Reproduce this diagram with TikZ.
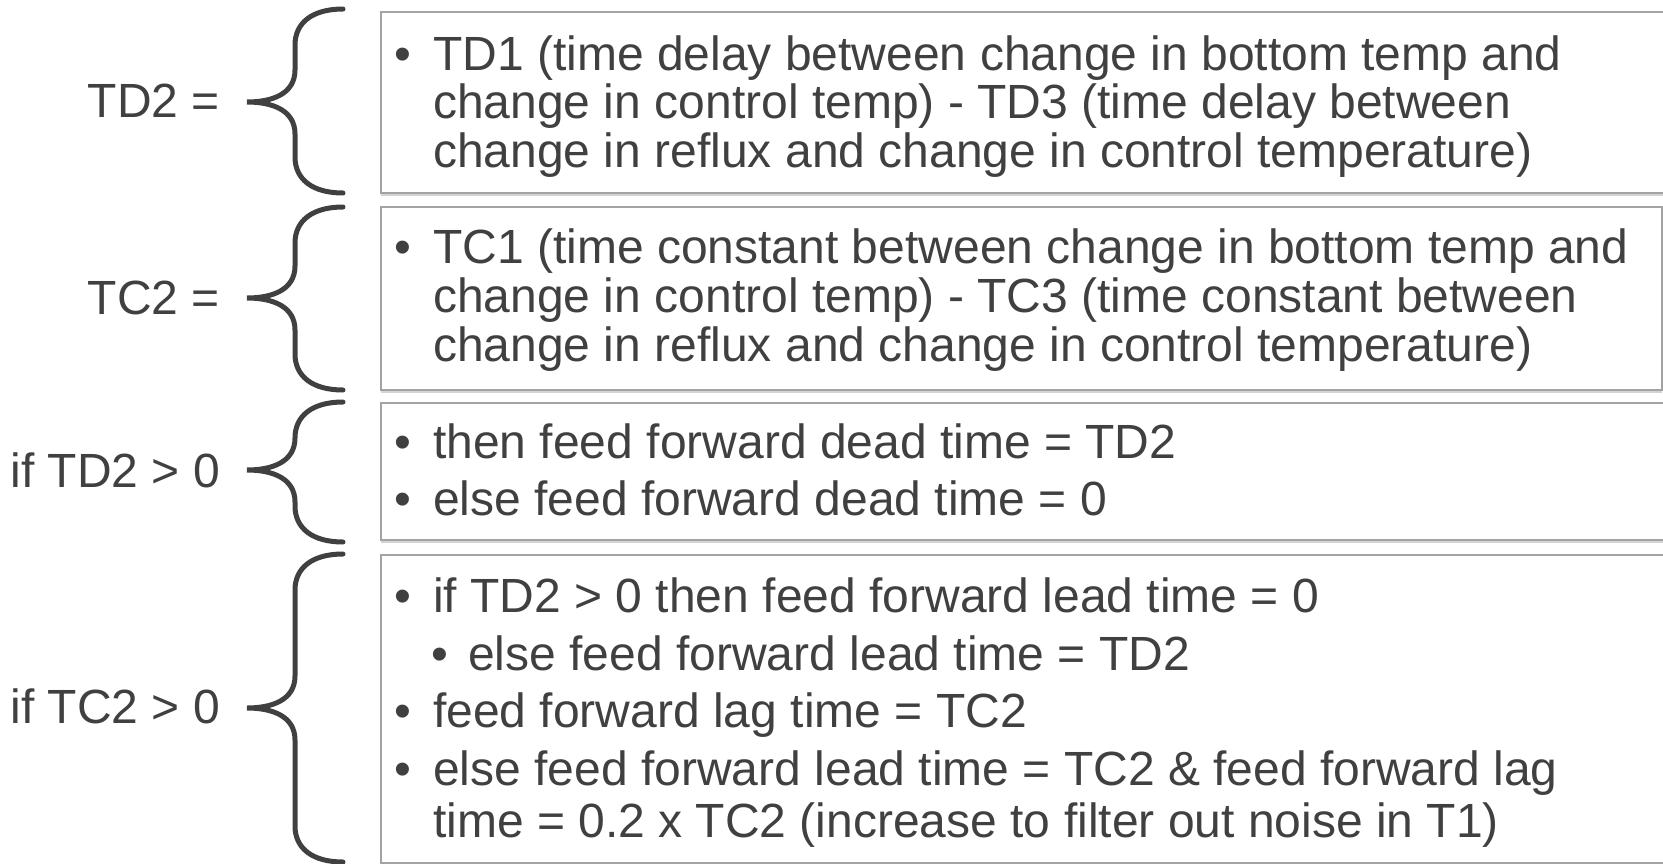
\documentclass[tikz,border=0pt]{standalone}
\usepackage{fontspec}
\setmainfont{Liberation Sans}
\usetikzlibrary{shadows}
\definecolor{ink}{HTML}{404040}
\definecolor{frame}{HTML}{A3A3A3}

% curly brace: top end, tip height, bottom end
\newcommand\curlybrace[3]{%
  \draw[bracestroke] (343,#1) .. controls (312,#1) and (295,{#1+14}) .. (295,{#1+36})
    -- (295,{#2-32}) .. controls (295,{#2-8}) and (272,#2) .. (247,#2)
    .. controls (272,#2) and (295,{#2+8}) .. (295,{#2+32})
    -- (295,{#3-36}) .. controls (295,{#3-14}) and (312,#3) .. (343,#3);}

\begin{document}
\begin{tikzpicture}[x=1pt,y=-1pt,
  txt/.style={anchor=base west, inner sep=0pt, text=ink, font=\fontsize{48}{50}\selectfont},
  lbl/.style={anchor=base east, inner sep=0pt, text=ink, font=\fontsize{48}{50}\selectfont},
  dot/.style={anchor=base, inner sep=0pt, text=ink, font=\fontsize{48}{50}\selectfont},
  panel/.style={anchor=north west, fill=white, draw=frame, line width=1.5pt,
    drop shadow={shadow xshift=0pt, shadow yshift=-3pt, opacity=0.35}},
  bracestroke/.style={draw=ink, line width=5pt, line cap=round}]
\useasboundingbox (0,0) rectangle (1663,863);

% panels
\node[panel, minimum width=1320pt, minimum height=181pt] (p1) at (380,11) {};
\node[panel, minimum width=1281pt, minimum height=183pt] (p2) at (380,206) {};
\node[panel, minimum width=1320pt, minimum height=137pt] (p3) at (380,402) {};
\node[panel, minimum width=1320pt, minimum height=308pt] (p4) at (380,554) {};

% braces
\curlybrace{9}{102}{193}
\curlybrace{207}{298}{390}
\curlybrace{402}{470}{542}
\curlybrace{554}{708}{862}

% left labels
\node[lbl] (l1) at (220,117) {TD2 =};
\node[lbl] (l2) at (220,314) {TC2 =};
\node[lbl] (l3) at (220,487) {if TD2 > 0};
\node[lbl] (l4) at (220,723) {if TC2 > 0};

% panel 1
\node[dot] (b11) at (403,70) {•};
\node[txt] (t11) at (433,70) {TD1 (time delay between change in bottom temp and};
\node[txt] (t12) at (433,118) {change in control temp) - TD3 (time delay between};
\node[txt] (t13) at (433,167) {change in reflux and change in control temperature)};

% panel 2
\node[dot] (b21) at (403,263) {•};
\node[txt] (t21) at (433,263) {TC1 (time constant between change in bottom temp and};
\node[txt] (t22) at (433,312) {change in control temp) - TC3 (time constant between};
\node[txt] (t23) at (433,361) {change in reflux and change in control temperature)};

% panel 3
\node[dot] (b31) at (403,458) {•};
\node[txt] (t31) at (433,458) {then feed forward dead time = TD2};
\node[dot] (b32) at (403,515) {•};
\node[txt] (t32) at (433,515) {else feed forward dead time = 0};

% panel 4
\node[dot] (b41) at (403,612) {•};
\node[txt] (t41) at (433,612) {if TD2 > 0 then feed forward lead time = 0};
\node[dot] (b42) at (440,670) {•};
\node[txt] (t42) at (468,670) {else feed forward lead time = TD2};
\node[dot] (b43) at (403,727) {•};
\node[txt] (t43) at (433,727) {feed forward lag time = TC2};
\node[dot] (b44) at (403,785) {•};
\node[txt] (t44) at (433,785) {else feed forward lead time = TC2 \& feed forward lag};
\node[txt] (t45) at (433,837) {time = 0.2 x TC2 (increase to filter out noise in T1)};
\end{tikzpicture}
\end{document}
